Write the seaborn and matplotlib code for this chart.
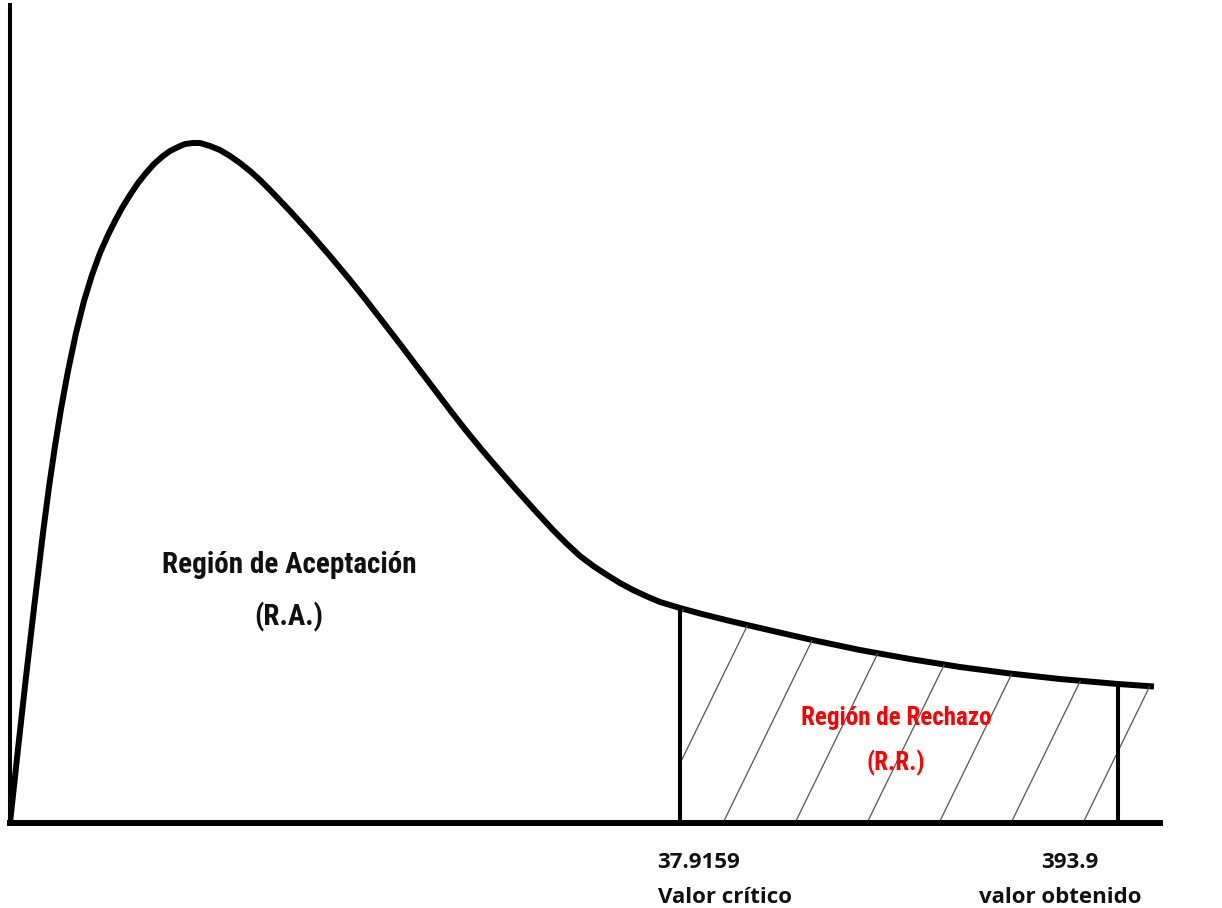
import numpy as np
import matplotlib
matplotlib.use("Agg")
import matplotlib.pyplot as plt
import seaborn as sns

# curve (horizontal position, height above the baseline)
curve_x = np.array([0, 8, 16, 24, 33, 39, 45, 51, 58, 66, 74, 82, 90, 98, 105, 112, 120,
                    128, 136, 144, 153, 160, 168, 175, 183, 190, 200, 210, 220, 230, 240,
                    250, 260, 270, 280, 290, 300, 320, 340, 356, 373, 390, 407, 423, 440,
                    456, 472, 490, 507, 525, 543, 557, 570, 584, 597, 610, 623, 637, 650,
                    670, 690, 720, 750, 800, 850, 900, 950, 1000, 1050, 1108, 1144])
curve_y = np.array([0, 74, 146, 215, 290, 336, 377, 414, 452, 490, 522, 548, 570, 588, 602,
                    615, 628, 640, 650, 659, 667, 672, 676, 679, 680, 680, 677, 673, 667,
                    660, 652, 643, 633, 622.5, 612, 601, 590, 567, 543, 523, 501, 479,
                    456.5, 435.5, 413, 392.5, 373, 352, 332.5, 312.5, 293, 279, 267, 256.5,
                    248, 240, 233, 226.5, 221, 215, 209.5, 202, 195, 183.5, 173, 164, 156,
                    149.5, 144, 139, 136.5])

critico_pos = 670
obtenido_pos = 1108
critico_label = "37.9159"
obtenido_label = "393.9"

sns.set_theme(style="white")
plt.rcParams["font.family"] = ["Open Sans", "DejaVu Sans"]

fig = plt.figure(figsize=(12.22, 9.08), dpi=100)
ax = fig.add_axes([10 / 1222, 85 / 908, 1150 / 1222, 818 / 908])
ax.set_xlim(0, 1150)
ax.set_ylim(0, 818)

# the curve
sns.lineplot(x=curve_x, y=curve_y, color="black", linewidth=4.3, ax=ax,
             solid_capstyle="butt", solid_joinstyle="round")

# rejection region, hatched with thin slanted lines
mask = curve_x >= critico_pos
region = ax.fill_between(curve_x[mask], curve_y[mask], 0, facecolor="none", edgecolor="none")
clip = region.get_paths()[0]
for x0 in np.arange(713 - 72 * 3, 1160, 72):
    hl = ax.axline((x0, 0), slope=2.05, color="#555555", linewidth=0.9)
    hl.set_clip_path(clip, ax.transData)

# vertical lines at critical and obtained values
for xv in [critico_pos, obtenido_pos]:
    ax.vlines(xv, 0, np.interp(xv, curve_x, curve_y), color="black", linewidth=2.9)

cond = dict(family=["Roboto Condensed", "Roboto", "DejaVu Sans"], fontstretch="condensed",
            fontweight="bold", ha="center", va="baseline")
ax.text(279, 250, "Región de Aceptación", fontsize=21, color="#111111", **cond)
ax.text(279, 198, "(R.A.)", fontsize=21, color="#111111", **cond)
ax.text(886, 98, "Región de Rechazo", fontsize=18, color="#ff0000", **cond)
ax.text(886, 53, "(R.R.)", fontsize=18, color="#ff0000", **cond)

lab = dict(fontsize=16, fontweight="bold", color="#111111", va="baseline", clip_on=False)
ax.text(647, -45, critico_label, ha="left", **lab)
ax.text(648, -80, "Valor crítico", ha="left", **lab)
ax.text(1060, -45, obtenido_label, ha="center", **lab)
ax.text(1050, -80, "valor obtenido", ha="center", **lab)

sns.despine(ax=ax)
ax.spines["left"].set_linewidth(2.9)
ax.spines["bottom"].set_linewidth(4.3)
ax.spines["left"].set_color("black")
ax.spines["bottom"].set_color("black")
ax.set_xticks([])
ax.set_yticks([])

fig.savefig("out.png", dpi=100, facecolor="white")
